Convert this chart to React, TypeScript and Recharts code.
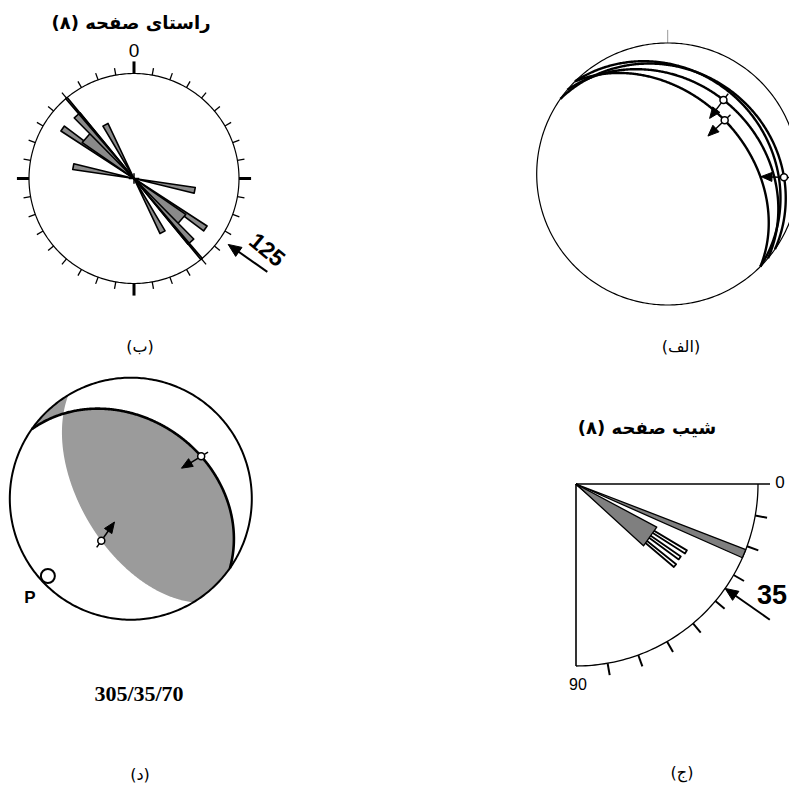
import React from "react";
import { ScatterChart, Scatter, XAxis, YAxis, ReferenceLine } from "recharts";

// (ب) strike rose of the 8 planes: bin centre (deg), petal length (fraction of net radius), bin half width (deg)
const strikeBins = [101, 125, 131, 138, 140, 152];
const strikeCounts = [0.59, 0.83, 0.6, 0.81, 1.0, 0.58];
const strikeBinHalf = [2.7, 2.0, 6.2, 2.6, 0.5, 2.7];
const strikeMean = 125;
const strikeTicks = Array.from({ length: 36 }, (_, i) => i * 10);

// (ج) dip rose
const dipBins = [31.7, 35.5, 39.5, 35.3, 22.5];
const dipCounts = [0.71, 0.7, 0.705, 0.503, 1.0];
const dipBinHalf = [0.8, 0.8, 0.8, 7.2, 1.4];
const dipMean = 35;
const dipTicks = [10, 20, 30, 40, 50, 60, 70, 80];

// (الف) fault planes (dip direction / dip) and slip lines (trend / plunge)
const planeDipDirs = [45, 40, 45, 35];
const planeDips = [23, 30, 40, 21.4];
const slipTrends = [37, 46.7, 91.6];
const slipPlunges = [30, 40, 12.2];

// (د) fault 305/35/70 and P axis
const faultStrike = 305;
const faultDip = 35;
const faultRake = 70;
const pTrend = 227;
const pPlunge = 7;

const strikeTitle = "راستای صفحه (۸)";
const dipTitle = "شیب صفحه (۸)";
const captions = ["(الف)", "(ب)", "(ج)", "(د)"];

type Pt = { x: number; y: number };
type V = [number, number, number];

const rad = (d: number) => (d * Math.PI) / 180;
const deg = (r: number) => (r * 180) / Math.PI;
const polar = (az: number, r: number): Pt => ({ x: r * Math.sin(rad(az)), y: r * Math.cos(rad(az)) });
const eqArea = (trend: number, plunge: number) => polar(trend, Math.SQRT2 * Math.sin(rad((90 - plunge) / 2)));
const steps = (from: number, to: number, step = 1) => {
  const n = Math.max(1, Math.ceil(Math.abs(to - from) / step));
  return Array.from({ length: n + 1 }, (_, i) => from + ((to - from) * i) / n);
};
const circleArc = (from: number, to: number, r = 1) => steps(from, to).map((a) => polar(a, r));
const greatCircle = (dd: number, dip: number, from = dd - 90, to = dd + 90) =>
  steps(from, to, 0.5).map((phi) => eqArea(phi, deg(Math.atan(Math.tan(rad(dip)) * Math.cos(rad(phi - dd))))));
const wedge = (az: number, len: number, half: number) => [
  { x: 0, y: 0 },
  polar(az - half, len),
  polar(az + half, len),
  { x: 0, y: 0 },
];
const head = (tip: Pt, ux: number, uy: number, len: number, hw: number) => {
  const bx = tip.x - ux * len;
  const by = tip.y - uy * len;
  return [tip, { x: bx - uy * hw, y: by + ux * hw }, { x: bx + uy * hw, y: by - ux * hw }, tip];
};

// focal mechanism geometry
const vec = (trend: number, plunge: number): V => [
  Math.cos(rad(plunge)) * Math.sin(rad(trend)),
  Math.cos(rad(plunge)) * Math.cos(rad(trend)),
  Math.sin(rad(plunge)),
];
const cross = (a: V, b: V): V => [a[1] * b[2] - a[2] * b[1], a[2] * b[0] - a[0] * b[2], a[0] * b[1] - a[1] * b[0]];
const lineOf = (v: V) => {
  const s = v[2] < 0 ? -1 : 1;
  const [e, n, d] = v.map((c) => c * s);
  const len = Math.hypot(e, n, d);
  return { trend: (deg(Math.atan2(e, n)) + 360) % 360, plunge: deg(Math.asin(d / len)) };
};
const within = (a: number, lo: number) => {
  let x = a;
  while (x < lo) x += 360;
  while (x >= lo + 360) x -= 360;
  return x;
};

const faultDD = (faultStrike + 90) % 360;
const sVec = vec(faultStrike, 0);
const dVec = vec(faultDD, faultDip);
const slip = lineOf(
  [0, 1, 2].map((i) => Math.cos(rad(faultRake)) * sVec[i] - Math.sin(rad(faultRake)) * dVec[i]) as V
);
const pole = lineOf(vec(faultDD + 180, 90 - faultDip));
const nullAxis = lineOf(cross(vec(pole.trend, pole.plunge), vec(slip.trend, slip.plunge)));
const auxDD = (slip.trend + 180) % 360;
const auxDip = 90 - slip.plunge;
const bAux = within(nullAxis.trend, auxDD - 90);
const bFault = within(nullAxis.trend, faultDD - 90);
const shadeMain = [
  ...greatCircle(auxDD, auxDip, bAux, auxDD - 90),
  ...circleArc(auxDD - 90, faultDD + 90),
  ...greatCircle(faultDD, faultDip, faultDD + 90, bFault),
];
const shadeSliver = [
  ...greatCircle(auxDD, auxDip, bAux, auxDD + 90),
  ...circleArc(auxDD + 90, faultDD - 90 + 360),
  ...greatCircle(faultDD, faultDip, faultDD - 90, bFault),
];

const Blank = () => null;

const path = (key: string, data: Pt[], stroke = "#000", strokeWidth = 1.5, fill = "none") => (
  <Scatter
    key={key}
    data={data}
    shape={Blank}
    line={{ stroke, strokeWidth, fill, strokeLinejoin: "round" }}
    lineType="joint"
    legendType="none"
    isAnimationActive={false}
  />
);

const dot = (key: string, p: Pt, r: number, sw = 1.5) => (
  <Scatter
    key={key}
    data={[p]}
    legendType="none"
    isAnimationActive={false}
    shape={(s: any) => <circle cx={s.cx} cy={s.cy} r={r} fill="#fff" stroke="#000" strokeWidth={sw} />}
  />
);

const seg = (key: string, a: Pt, b: Pt, stroke = "#000", strokeWidth = 1.3) => (
  <ReferenceLine key={key} segment={[a, b]} stroke={stroke} strokeWidth={strokeWidth} ifOverflow="visible" />
);

// slip marker: open circle, short tail outward, arrow toward the net centre
const slipMarker = (key: string, p: Pt, R: number) => {
  const len = Math.hypot(p.x, p.y);
  const ux = -p.x / len;
  const uy = -p.y / len;
  const k = 1 / R;
  const tail = { x: p.x - ux * 8 * k, y: p.y - uy * 8 * k };
  const end = { x: p.x + ux * 13 * k, y: p.y + uy * 13 * k };
  const tip = { x: p.x + ux * 23 * k, y: p.y + uy * 23 * k };
  return [
    path(key + "l", [tail, end], "#000", 1.5),
    path(key + "h", head(tip, ux, uy, 11 * k, 4.5 * k), "#000", 1, "#000"),
    dot(key + "d", p, 3.5),
  ];
};

// radial arrow pointing inward at an azimuth
const radialArrow = (key: string, az: number, rTip: number, rTail: number, R: number) => {
  const u = polar(az, 1);
  const tip = polar(az, rTip);
  return [
    path(key + "l", [polar(az, rTip + 8 / R), polar(az, rTail)], "#000", 2),
    path(key + "h", head(tip, -u.x, -u.y, 13 / R, 5.5 / R), "#000", 1, "#000"),
  ];
};

function Panel({ box, cx, cy, R, children }: { box: number[]; cx: number; cy: number; R: number; children: any }) {
  const [left, top, width, height] = box;
  return (
    <div style={{ position: "absolute", left, top }}>
      <ScatterChart width={width} height={height} margin={{ top: 0, right: 0, bottom: 0, left: 0 }}>
        <XAxis type="number" dataKey="x" hide allowDataOverflow domain={[(left - cx) / R, (left + width - cx) / R]} />
        <YAxis type="number" dataKey="y" hide allowDataOverflow domain={[(cy - top - height) / R, (cy - top) / R]} />
        {children}
      </ScatterChart>
    </div>
  );
}

const label = (text: string, x: number, y: number, style: React.CSSProperties = {}, rotate = 0) => (
  <div
    key={text + x}
    style={{
      position: "absolute",
      left: x,
      top: y,
      transform: `translate(-50%, -50%) rotate(${rotate}deg)`,
      whiteSpace: "nowrap",
      lineHeight: 1,
      color: "#000",
      ...style,
    }}
  >
    {text}
  </div>
);

const fa = "'DejaVu Sans', sans-serif";
const fl = "'Liberation Sans', Arial, sans-serif";

export default function App() {
  const roseR = 105;
  const rose = [
    path("c", circleArc(0, 360), "#000", 1.2),
    ...strikeTicks.map((a) =>
      a % 90 === 0
        ? seg("t" + a, polar(a, 1), polar(a, 1.115), "#000", 3)
        : seg("t" + a, polar(a, 1), polar(a, 1.068), "#000", 1.3)
    ),
    ...strikeBins.flatMap((a, i) => [
      path("p" + i, wedge(a, strikeCounts[i], strikeBinHalf[i]), "#000", 1.6, "#8a8a8a"),
      path("q" + i, wedge(a + 180, strikeCounts[i], strikeBinHalf[i]), "#000", 1.6, "#8a8a8a"),
    ]),
    seg("cx", { x: -0.05, y: 0 }, { x: 0.05, y: 0 }, "#000", 1.5),
    seg("cy", { x: 0, y: -0.05 }, { x: 0, y: 0.05 }, "#000", 1.5),
    ...radialArrow("arr", strikeMean, 1.095, 1.55, roseR),
  ];

  const netR = 131;
  const net = [
    path("c", circleArc(0, 360), "#000", 1.2),
    seg("n", polar(0, 1), polar(0, 1.1), "#999", 1),
    ...planeDipDirs.map((dd, i) => path("g" + i, greatCircle(dd, planeDips[i]), "#000", 2.4)),
    ...slipTrends.flatMap((t, i) => slipMarker("s" + i, eqArea(t, slipPlunges[i]), netR)),
  ];

  const fmR = 121;
  const focal = [
    path("sh1", shadeMain, "none", 0, "#9b9b9b"),
    path("sh2", shadeSliver, "none", 0, "#9b9b9b"),
    path("c", circleArc(0, 360), "#000", 2),
    path("f", greatCircle(faultDD, faultDip), "#000", 2.6),
    ...slipMarker("sl", eqArea(slip.trend, slip.plunge), fmR),
    ...slipMarker("po", eqArea(pole.trend, pole.plunge), fmR),
    dot("p", eqArea(pTrend, pPlunge), 7, 2),
  ];

  // dip rose: dip angle d is drawn at azimuth 90 + d (0 = right, 90 = down)
  const dipR = 182;
  const dipRose = [
    path("a", circleArc(90, 180), "#000", 1.3),
    seg("h", { x: 0, y: 0 }, polar(90, 1.066), "#000", 1.6),
    seg("v", { x: 0, y: 0 }, polar(180, 1), "#000", 1.6),
    ...dipTicks.map((d) => seg("t" + d, polar(90 + d, 1), polar(90 + d, 1.066), "#000", 2)),
    ...dipBins.map((d, i) =>
      path("p" + i, wedge(90 + d, dipCounts[i], dipBinHalf[i]), "#000", i < 3 ? 1.8 : 1.3, i < 3 ? "#fff" : "#7f7f7f")
    ),
    ...radialArrow("arr", 90 + dipMean, 1.0, 1.3, dipR),
  ];

  return (
    <div
      style={{
        position: "absolute",
        left: 0,
        top: 0,
        width: 789,
        height: 787,
        overflow: "hidden",
        background: "#fff",
      }}
    >
      <Panel box={[8, 52, 275, 255]} cx={134} cy={178.5} R={roseR}>
        {rose}
      </Panel>
      <Panel box={[505, 20, 284, 300]} cx={667.7} cy={174} R={netR}>
        {net}
      </Panel>
      <Panel box={[0, 365, 262, 265]} cx={130.8} cy={498.7} R={fmR}>
        {focal}
      </Panel>
      <Panel box={[556, 465, 233, 230]} cx={576} cy={484} R={dipR}>
        {dipRose}
      </Panel>

      {label(strikeTitle, 131, 23, { fontFamily: fa, fontWeight: 700, fontSize: 18, direction: "rtl" })}
      {label("0", 134, 50, { fontFamily: fl, fontSize: 19 })}
      {label("125", 267, 250, { fontFamily: fl, fontSize: 23, fontWeight: 700 }, 40)}
      {label(dipTitle, 647, 428, { fontFamily: fa, fontWeight: 700, fontSize: 18, direction: "rtl" })}
      {label("0", 780, 482, { fontFamily: fl, fontSize: 17 })}
      {label("90", 578, 685, { fontFamily: fl, fontSize: 16 })}
      <div
        style={{
          position: "absolute",
          right: 2,
          top: 595,
          transform: "translateY(-50%)",
          fontFamily: fl,
          fontWeight: 700,
          fontSize: 27,
          lineHeight: 1,
          whiteSpace: "nowrap",
        }}
      >
        35
      </div>
      {label("P", 30, 597, { fontFamily: fl, fontWeight: 700, fontSize: 17 })}
      {label("305/35/70", 139, 694, { fontFamily: "'Liberation Serif', 'Times New Roman', serif", fontWeight: 700, fontSize: 22 })}
      {label(captions[0], 681, 347, { fontFamily: fa, fontSize: 16, direction: "rtl" })}
      {label(captions[1], 140, 347, { fontFamily: fa, fontSize: 16, direction: "rtl" })}
      {label(captions[2], 682, 773, { fontFamily: fa, fontSize: 16, direction: "rtl" })}
      {label(captions[3], 140, 775, { fontFamily: fa, fontSize: 16, direction: "rtl" })}
    </div>
  );
}
